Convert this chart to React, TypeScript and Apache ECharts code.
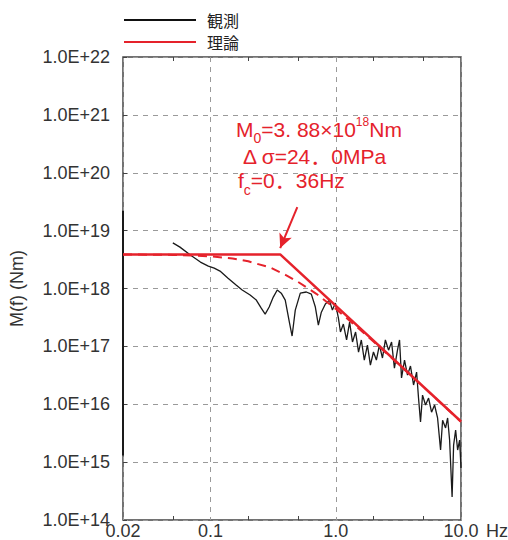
import React, { useEffect, useRef } from "react";
import * as echarts from "echarts";

// ---- data ----
const obsFreq = [0.050,0.057,0.069,0.083,0.096,0.107,0.119,0.138,0.160,0.179,0.207,0.232,0.254,0.273,0.294,0.317,0.341,0.367,0.395,0.426,0.448,0.475,0.521,0.582,0.638,0.687,0.726,0.767,0.826,0.889,0.940,0.993,1.05,1.09,1.15,1.22,1.29,1.36,1.44,1.52,1.60,1.69,1.79,1.89,2.00,2.11,2.23,2.36,2.49,2.64,2.79,2.94,3.11,3.23,3.35,3.54,3.74,3.95,4.18,4.42,4.58,4.75,4.93,5.21,5.51,5.82,6.15,6.50,6.87,7.13,7.53,7.82,8.11,8.49,8.73,9.06,9.40,9.75,10.0];
const obsM = [6.15e18,5.19e18,3.78e18,2.86e18,2.44e18,2.25e18,2.0e18,1.51e18,1.15e18,9.4e17,7.7e17,6.3e17,4.58e17,3.6e17,4.78e17,7.1e17,9.4e17,8.3e17,6.3e17,2.63e17,1.51e17,4.24e17,8.3e17,8.7e17,8.0e17,4.78e17,2.33e17,3.9e17,5.4e17,6.3e17,4.24e17,5.6e17,3.08e17,1.77e17,2.43e17,1.29e17,2.63e17,1.19e17,1.77e17,7.98e16,1.29e17,5.8e16,1.05e17,4.75e16,8.0e16,5.8e16,1.05e17,6.3e16,1.29e17,8.6e16,1.19e17,4.2e16,8.6e16,1.29e17,2.84e16,5.8e16,3.19e16,4.57e16,2.15e16,3.6e16,1.28e16,4.93e15,1.44e16,9.7e15,1.28e16,7.3e15,9.7e15,5.8e15,1.62e15,5.3e15,3.9e15,5.8e15,2.41e15,2.5e14,1.97e15,3.58e15,1.62e15,2.41e15,7.9e14];
// low-frequency part of the observation lying on the left edge
const obsEdgeFreq = [0.02, 0.02];
const obsEdgeM = [2.2e19, 1.3e15];

const thFreq = [0.02, 0.36, 10];
const thM = [3.88e18, 3.88e18, 5.03e15];

const brFreq = [0.02,0.05,0.1,0.15,0.2,0.3,0.4,0.5,0.7,1.0,1.5,2,3,5,10];
const brM = [3.87e18,3.81e18,3.6e18,3.3e18,2.95e18,2.3e18,1.7e18,1.3e18,8.1e17,4.45e17,2.1e17,1.21e17,5.5e16,2.0e16,5.0e15];

const arrowFrom = [0.493, 2.55e19];
const arrowTo = [0.36, 5.0e18];

const xMinorTicks = [0.05, 0.2, 0.5, 2, 5];
const xLabelMap: [number, string][] = [[0.02, "0.02"], [0.1, "0.1"], [1, "1.0"], [10, "10.0"]];
const legendNames = ["観測", "理論"];
const annoLines = [
  "{a|M}{sub|0}{a|=3. 88×10}{sup|18}{a|Nm}",
  "{b|Δ σ=24．0MPa}",
  "{a|f}{sub|c}{a|=0．36Hz}",
];

const zip = (xs: number[], ys: number[]) => xs.map((x, i) => [x, ys[i]]);

const RED = "#e5222b";
const FONT = "'Liberation Sans', Arial, 'Noto Sans CJK JP', sans-serif";

export default function App() {
  const ref = useRef<HTMLDivElement>(null);
  useEffect(() => {
    if (!ref.current) return;
    const chart = echarts.init(ref.current, null, { renderer: "svg" });
    const gridLine = { show: true, lineStyle: { color: "#9a9a9a", type: [5, 5] as any, width: 1 } };
    const rich = {
      a: { fontSize: 21, fontFamily: FONT, color: RED, lineHeight: 28 },
      b: { fontSize: 21, fontFamily: FONT, color: RED, lineHeight: 24 },
      sub: { fontSize: 14, fontFamily: FONT, color: RED, lineHeight: 32, verticalAlign: "bottom" },
      sup: { fontSize: 12, fontFamily: FONT, color: RED, lineHeight: 28, verticalAlign: "top", padding: [3, 0, 0, 0] },
    };
    const annoTops = [113, 146, 170];
    const annoLefts = [236, 243, 238];
    const minorAxis = (position: string) => ({
      type: "log",
      logBase: 10,
      min: 0.02,
      max: 10,
      position,
      axisLine: { show: false },
      axisTick: { show: true, inside: true, length: 4, customValues: xMinorTicks, lineStyle: { color: "#444" } },
      axisLabel: { show: false },
      splitLine: { show: false },
    });
    chart.setOption({
      animation: false,
      backgroundColor: "#fff",
      textStyle: { fontFamily: FONT },
      grid: { left: 123, right: 47, top: 57, bottom: 20, show: true, borderColor: "#444", borderWidth: 1.5, containLabel: false, outerBoundsMode: "none" },
      legend: {
        data: legendNames.map((n) => ({ name: n, icon: "rect" })),
        orient: "vertical",
        left: 124,
        top: 12,
        padding: 0,
        itemWidth: 72,
        itemHeight: 2,
        itemGap: 6,
        textStyle: { fontSize: 16, color: "#222", fontFamily: "'Noto Sans CJK JP', sans-serif", lineHeight: 16, padding: [0, 0, 0, 6] },
      },
      xAxis: [
        {
          type: "log",
          logBase: 10,
          min: 0.02,
          max: 10,
          position: "bottom",
          name: "Hz",
          nameLocation: "end",
          nameGap: 25,
          nameTextStyle: { fontSize: 18, color: "#333", verticalAlign: "top", padding: [2, 0, 0, 0] },
          axisLine: { show: false },
          axisTick: { show: false },
          axisLabel: {
            fontSize: 18,
            color: "#333",
            margin: 2,
            showMinLabel: true,
            showMaxLabel: true,
            formatter: (v: number) => {
              for (const [k, s] of xLabelMap) if (Math.abs(v - k) / k < 1e-3) return s;
              return "";
            },
          },
          splitLine: gridLine,
        },
        minorAxis("top"),
        minorAxis("bottom"),
      ],
      yAxis: {
        type: "log",
        logBase: 10,
        min: 1e14,
        max: 1e22,
        name: "M(f) (Nm)",
        nameLocation: "middle",
        nameGap: 97,
        nameRotate: 90,
        nameTextStyle: { fontSize: 18, color: "#333" },
        axisLine: { show: false },
        axisTick: { show: true, inside: true, length: 4, lineStyle: { color: "#444" } },
        axisLabel: {
          fontSize: 18,
          color: "#333",
          margin: 13,
          formatter: (v: number) => "1.0E+" + Math.round(Math.log10(v)),
        },
        splitLine: gridLine,
      },
      series: [
        {
          name: "観測",
          type: "line",
          data: zip(obsFreq, obsM),
          showSymbol: false,
          symbol: "none",
          lineStyle: { color: "#1a1a1a", width: 1.3 },
          itemStyle: { color: "#111" },
          z: 2,
        },
        {
          name: "観測",
          type: "line",
          data: zip(obsEdgeFreq, obsEdgeM),
          symbol: "none",
          lineStyle: { color: "#1a1a1a", width: 2 },
          itemStyle: { color: "#111" },
          z: 2,
        },
        {
          name: "理論(Brune)",
          type: "line",
          data: zip(brFreq, brM),
          symbol: "none",
          smooth: false,
          lineStyle: { color: RED, width: 2, type: [9, 6] as any },
          itemStyle: { color: RED },
          z: 3,
        },
        {
          name: "理論",
          type: "line",
          data: zip(thFreq, thM),
          symbol: "none",
          lineStyle: { color: RED, width: 2.5 },
          itemStyle: { color: RED },
          z: 4,
          markLine: {
            silent: true,
            symbol: ["none", "arrow"],
            symbolSize: [10, 14],
            label: { show: false },
            lineStyle: { color: RED, width: 2, type: "solid" },
            data: [[{ coord: arrowFrom }, { coord: arrowTo }]],
          },
        },
      ],
      graphic: annoLines.map((t, i) => ({
        type: "text",
        left: annoLefts[i],
        top: annoTops[i],
        z: 10,
        style: { text: t, rich, align: "left", verticalAlign: "top", fill: RED },
      })),
    });
    return () => chart.dispose();
  }, []);
  return <div ref={ref} style={{ position: "fixed", left: 0, top: 0, width: 508, height: 540 }} />;
}
